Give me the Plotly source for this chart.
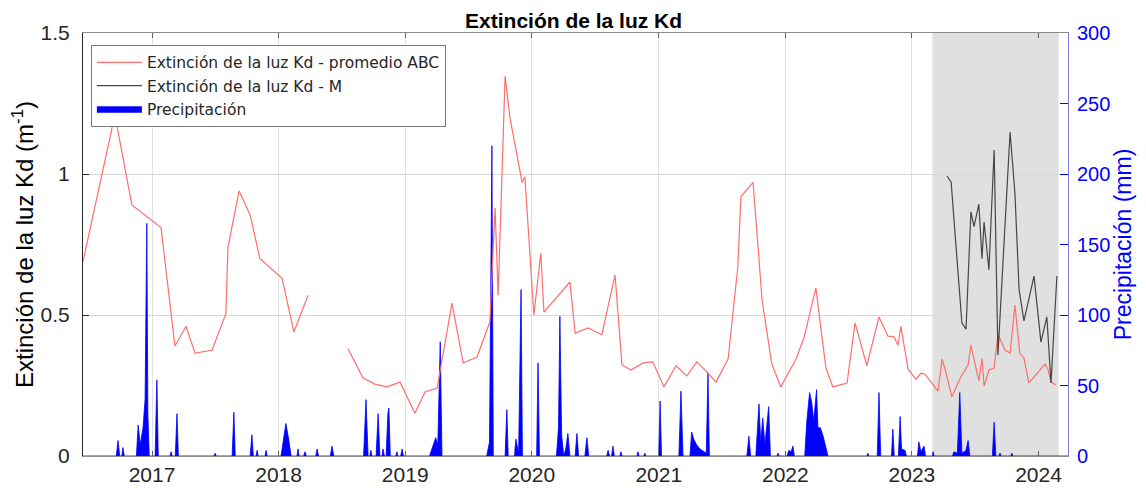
import plotly.graph_objects as go

# ---- Kd promedio ABC (red) ----
abc_dates = [
    "2016-06-16", "2016-09-16", "2016-11-04", "2017-01-27", "2017-03-08", "2017-04-09",
    "2017-05-05", "2017-06-23", "2017-08-02", "2017-08-08", "2017-09-09", "2017-10-11",
    "2017-11-08", "2018-01-11", "2018-02-14", "2018-03-27", "2018-05-20",
    "2018-07-20", "2018-09-01", "2018-10-06", "2018-11-10", "2018-12-17", "2019-01-29",
    "2019-02-27", "2019-04-03", "2019-05-16", "2019-06-17", "2019-07-27", "2019-09-02",
    "2019-09-17", "2019-09-26", "2019-10-16", "2019-10-30", "2019-12-04", "2019-12-12",
    "2020-01-07", "2020-01-27", "2020-02-05", "2020-04-20", "2020-05-05", "2020-06-11",
    "2020-07-21", "2020-08-28", "2020-09-17", "2020-10-13", "2020-11-17", "2020-12-15",
    "2021-01-16", "2021-02-20", "2021-03-23", "2021-04-21", "2021-05-20", "2021-06-15",
    "2021-07-20", "2021-08-17", "2021-08-26", "2021-09-30", "2021-10-26", "2021-11-23",
    "2021-12-19", "2022-02-01", "2022-02-24", "2022-03-30", "2022-04-28", "2022-05-18",
    "2022-06-28", "2022-07-21", "2022-08-24", "2022-09-14", "2022-09-28", "2022-10-24",
    "2022-11-10", "2022-11-22", "2022-11-30", "2022-12-21", "2023-01-13", "2023-01-27",
    "2023-02-08", "2023-03-17", "2023-03-29", "2023-04-09", "2023-04-26", "2023-05-22",
    "2023-06-12", "2023-06-20", "2023-07-13", "2023-07-22", "2023-07-28", "2023-08-11",
    "2023-08-26", "2023-09-06", "2023-09-26", "2023-10-11", "2023-10-25", "2023-11-08",
    "2023-11-20", "2023-12-04", "2024-01-20", "2024-01-28", "2024-02-06", "2024-02-20",
]
abc_kd = [
    0.69, 1.21, 0.89, 0.81, 0.39, 0.46,
    0.365, 0.375, 0.505, 0.74, 0.94, 0.855,
    0.70, 0.63, 0.44, 0.57, None,
    0.38, 0.277, 0.255, 0.245, 0.262, 0.152,
    0.227, 0.241, 0.542, 0.33, 0.351, 0.475,
    0.88, 0.57, 1.347, 1.20, 0.97, 0.99,
    0.50, 0.72, 0.51, 0.617, 0.436, 0.454,
    0.43, 0.642, 0.323, 0.305, 0.33, 0.334,
    0.245, 0.32, 0.284, 0.334, 0.298, 0.262,
    0.344, 0.67, 0.92, 0.97, 0.553, 0.326,
    0.245, 0.344, 0.42, 0.596, 0.312, 0.245,
    0.259, 0.472, 0.32, 0.42, 0.493, 0.425,
    0.423, 0.393, 0.46, 0.308, 0.272, 0.294,
    0.29, 0.23, 0.344, 0.297, 0.21, 0.28,
    0.323, 0.393, 0.266, 0.346, 0.248, 0.305,
    0.312, 0.432, 0.376, 0.365, 0.535, 0.365,
    0.347, 0.259, 0.326, 0.308, 0.262, 0.252,
]

# ---- Kd M (black) ----
m_dates = [
    "2023-04-12", "2023-04-24", "2023-05-25", "2023-06-06", "2023-06-20", "2023-06-29",
    "2023-07-13", "2023-07-22", "2023-07-28", "2023-08-11", "2023-08-26", "2023-09-06",
    "2023-10-11", "2023-10-25", "2023-11-06", "2023-11-20", "2023-12-19", "2024-01-08",
    "2024-01-25", "2024-02-06", "2024-02-23",
]
m_kd = [
    0.993, 0.972, 0.472, 0.45, 0.866, 0.813,
    0.893, 0.70, 0.83, 0.66, 1.085, 0.358,
    1.149, 0.932, 0.589, 0.479, 0.638, 0.404,
    0.493, 0.259, 0.638,
]

# ---- Precipitation (mm) ----
precip_dates = [
    "2016-06-16", "2016-09-20", "2016-09-25", "2016-09-30", "2016-10-06", "2016-10-09", "2016-10-13",
    "2016-11-17", "2016-11-22", "2016-11-28", "2016-12-06", "2016-12-12", "2016-12-17", "2016-12-20", "2016-12-24",
    "2017-01-10", "2017-01-15", "2017-01-19", "2017-02-22", "2017-02-25", "2017-02-28",
    "2017-03-09", "2017-03-14", "2017-03-18", "2017-06-29", "2017-07-02", "2017-07-05",
    "2017-08-20", "2017-08-25", "2017-08-29", "2017-10-11", "2017-10-16", "2017-10-20",
    "2017-10-28", "2017-10-31", "2017-11-03", "2017-11-23", "2017-11-26", "2017-11-29",
    "2018-01-08", "2018-01-14", "2018-01-22", "2018-01-30", "2018-02-06",
    "2018-02-23", "2018-02-26", "2018-03-01", "2018-03-14", "2018-03-18", "2018-03-22",
    "2018-04-18", "2018-04-22", "2018-04-26", "2018-05-30", "2018-06-04", "2018-06-09",
    "2018-09-03", "2018-09-10", "2018-09-16", "2018-09-21", "2018-09-24", "2018-09-27",
    "2018-10-09", "2018-10-15", "2018-10-20", "2018-10-26", "2018-10-29", "2018-11-02",
    "2018-11-07", "2018-11-12", "2018-11-15", "2018-11-19",
    "2018-12-05", "2018-12-08", "2018-12-11", "2018-12-19", "2018-12-23", "2018-12-27",
    "2019-03-12", "2019-03-18", "2019-03-30", "2019-04-05", "2019-04-12", "2019-04-17",
    "2019-08-24", "2019-08-28", "2019-09-01", "2019-09-08", "2019-09-12",
    "2019-10-16", "2019-10-21", "2019-10-25", "2019-11-12", "2019-11-16", "2019-11-24", "2019-12-01", "2019-12-05",
    "2020-01-15", "2020-01-19", "2020-01-23",
    "2020-03-12", "2020-03-18", "2020-03-22", "2020-03-27", "2020-04-02", "2020-04-08", "2020-04-14", "2020-04-20",
    "2020-05-05", "2020-05-10", "2020-05-15", "2020-06-02", "2020-06-08", "2020-06-13",
    "2020-08-04", "2020-08-08", "2020-08-12", "2020-08-18", "2020-08-22", "2020-08-26",
    "2020-09-11", "2020-09-14", "2020-09-17", "2020-10-30", "2020-11-02", "2020-11-05",
    "2020-11-19", "2020-11-22", "2020-11-25",
    "2021-01-01", "2021-01-05", "2021-01-09", "2021-02-28", "2021-03-06", "2021-03-12",
    "2021-04-01", "2021-04-06", "2021-04-12", "2021-04-20", "2021-04-30", "2021-05-12", "2021-05-18", "2021-05-23", "2021-05-27",
    "2021-09-12", "2021-09-18", "2021-09-23",
    "2021-10-08", "2021-10-17", "2021-10-22", "2021-10-28", "2021-11-03", "2021-11-14", "2021-11-19",
    "2021-12-08", "2021-12-11", "2021-12-14",
    "2022-01-06", "2022-01-11", "2022-01-17", "2022-01-23", "2022-01-27",
    "2022-02-26", "2022-03-04", "2022-03-12", "2022-03-18", "2022-03-24", "2022-04-01", "2022-04-05",
    "2022-04-12", "2022-04-20", "2022-04-27", "2022-05-04",
    "2022-08-24", "2022-08-27", "2022-08-30", "2022-09-23", "2022-09-28", "2022-10-03",
    "2022-11-03", "2022-11-07", "2022-11-11", "2022-11-23", "2022-11-28", "2022-12-02", "2022-12-12", "2022-12-16",
    "2023-01-17", "2023-01-21", "2023-01-27", "2023-02-05", "2023-02-09",
    "2023-03-01", "2023-03-03", "2023-03-06",
    "2023-04-28", "2023-05-02", "2023-05-12", "2023-05-19", "2023-05-25", "2023-06-06", "2023-06-12", "2023-06-17",
    "2023-08-21", "2023-08-26", "2023-08-31", "2023-09-09", "2023-09-12", "2023-09-15",
    "2023-10-13", "2023-10-16", "2023-10-19", "2024-03-26",
]
precip_mm = [
    0, 0, 11, 0, 0, 6, 0,
    0, 22, 8, 20, 40, 165, 30, 0,
    0, 54, 0, 0, 3, 0,
    0, 30, 0, 0, 2, 0,
    0, 31, 0, 0, 15, 0,
    0, 4, 0, 0, 4, 0,
    0, 10, 23, 12, 0,
    0, 5, 0, 0, 3, 0,
    0, 5, 0, 0, 7, 0,
    0, 40, 0, 0, 4, 0,
    0, 30, 0, 0, 5, 0,
    0, 30, 34, 0,
    0, 3, 0, 0, 5, 0,
    0, 4, 13, 8, 81, 0,
    0, 5, 10, 220, 0,
    0, 33, 0, 0, 12, 2, 118, 0,
    0, 66, 0,
    0, 20, 99, 15, 0, 5, 16, 0,
    0, 16, 0, 0, 13, 0,
    0, 4, 0, 0, 7, 0,
    0, 3, 0, 0, 3, 0,
    0, 2, 0,
    0, 39, 0, 0, 46, 0,
    0, 17, 12, 8, 5, 3, 2, 59, 0,
    0, 14, 0,
    0, 37, 10, 27, 8, 35, 0,
    0, 2, 0,
    0, 4, 3, 7, 0,
    0, 25, 45, 38, 25, 47, 20,
    20, 14, 6, 0,
    0, 2, 0, 0, 45, 0,
    0, 19, 0, 0, 28, 5, 4, 0,
    0, 10, 3, 7, 0,
    0, 3, 0,
    0, 3, 2, 45, 2, 4, 11, 0,
    0, 24, 0, 0, 2, 0,
    0, 2, 0, 0,
]

year_ticks = ["2017-01-01", "2018-01-01", "2019-01-01", "2020-01-01",
              "2021-01-01", "2022-01-01", "2023-01-01", "2024-01-01"]
year_labels = ["2017", "2018", "2019", "2020", "2021", "2022", "2023", "2024"]
x_range = ["2016-06-16", "2024-03-26"]
shade_start, shade_end = "2023-03-01", "2024-02-28"

FONT = "Liberation Sans, Arial, Helvetica, sans-serif"
BLUE = "rgb(0,0,255)"

fig = go.Figure()
fig.add_trace(go.Scatter(
    x=precip_dates, y=precip_mm, name="Precipitación", mode="lines",
    line=dict(color=BLUE, width=0.8), fill="tozeroy", fillcolor=BLUE,
    yaxis="y", showlegend=True, legendrank=3,
))
fig.add_trace(go.Scatter(
    x=abc_dates, y=abc_kd, name="Extinción de la luz Kd - promedio ABC", mode="lines",
    line=dict(color="rgb(255,110,110)", width=1.2), connectgaps=False,
    yaxis="y2", legendrank=1,
))
fig.add_trace(go.Scatter(
    x=m_dates, y=m_kd, name="Extinción de la luz Kd - M", mode="lines",
    line=dict(color="rgb(70,70,70)", width=1.2),
    yaxis="y2", legendrank=2,
))

fig.add_shape(type="rect", xref="x", yref="paper", x0=shade_start, x1=shade_end,
              y0=0, y1=1, fillcolor="rgb(224,224,224)", line=dict(width=0), layer="below")

fig.update_layout(
    width=1138, height=480,
    margin=dict(l=75, r=78, t=25, b=32),
    paper_bgcolor="white", plot_bgcolor="white",
    font=dict(family=FONT, size=20, color="rgb(38,38,38)"),
    title=dict(text="<b>Extinción de la luz Kd</b>", x=0.497, xanchor="center",
               y=0.974, yanchor="middle", yref="container",
               font=dict(family=FONT, size=21, color="black")),
    xaxis=dict(
        type="date", range=x_range, tickvals=year_ticks, ticktext=year_labels,
        showgrid=True, gridcolor="rgb(225,225,225)", gridwidth=1,
        ticks="inside", ticklen=5, tickcolor="rgb(100,100,100)",
        showline=True, linecolor="rgb(140,140,140)", linewidth=1, mirror="ticks",
        zeroline=False, tickfont=dict(size=21, color="rgb(38,38,38)"),
        automargin=False,
    ),
    yaxis=dict(
        side="right", range=[0, 300], tickvals=[0, 50, 100, 150, 200, 250, 300],
        showgrid=False, zeroline=False,
        ticks="inside", ticklen=8, tickcolor=BLUE, ticklabelstandoff=4,
        showline=True, linecolor="rgb(120,120,255)", linewidth=1,
        tickfont=dict(size=20, color=BLUE), automargin=False,
        title=dict(text="Precipitación (mm)", font=dict(size=23, color=BLUE), standoff=0),
    ),
    yaxis2=dict(
        side="left", overlaying="y", range=[0, 1.5], tickvals=[0, 0.5, 1, 1.5],
        ticktext=["0", "0.5", "1", "1.5"],
        showgrid=True, gridcolor="rgb(215,215,215)", gridwidth=1, zeroline=False,
        ticks="inside", ticklen=6, tickcolor="rgb(40,40,40)", ticklabelstandoff=8,
        showline=True, linecolor="rgb(40,40,40)", linewidth=1,
        tickfont=dict(size=21, color="rgb(38,38,38)"), automargin=False,
        title=dict(text="Extinción de la luz Kd (m<sup>-1</sup>)",
                   font=dict(size=24, color="black"), standoff=0),
    ),
    legend=dict(
        x=0.008, y=0.972, xanchor="left", yanchor="top",
        bgcolor="white", bordercolor="rgb(120,120,120)", borderwidth=1,
        font=dict(family="DejaVu Sans, Liberation Sans, sans-serif", size=15.5,
                  color="rgb(38,38,38)"),
        tracegroupgap=0, traceorder="normal", itemwidth=45,
    ),
)

fig.write_html("out.html")
